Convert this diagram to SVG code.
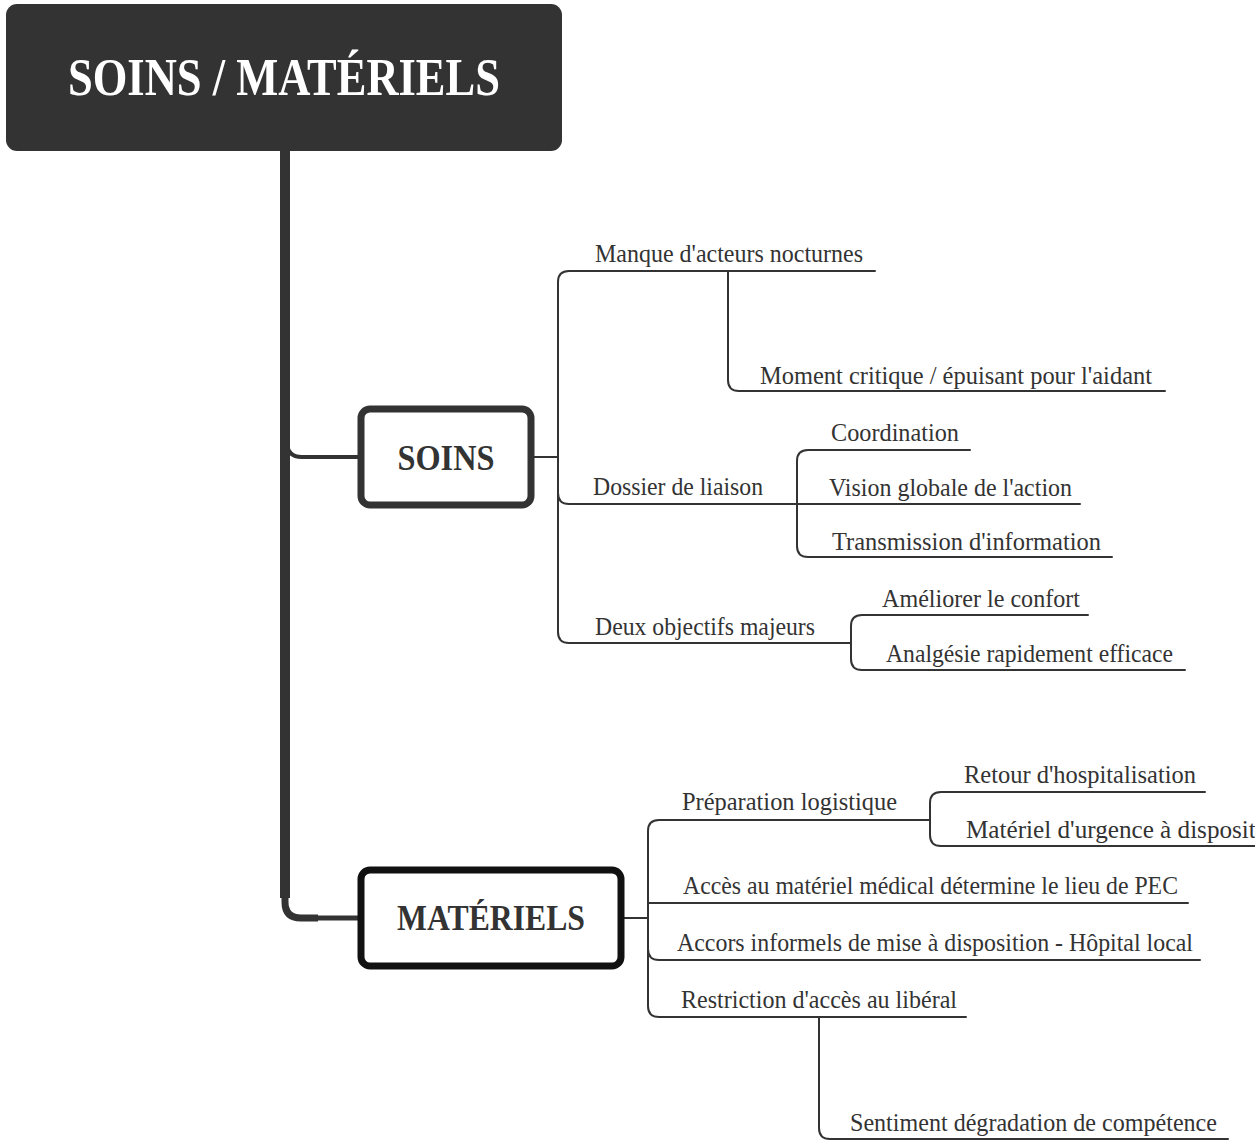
<svg xmlns="http://www.w3.org/2000/svg" width="1255" height="1144" viewBox="0 0 1255 1144">
<style>
.t{font-family:"Liberation Serif","Times New Roman",serif;fill:#333;font-size:25px}
.c{fill:none;stroke:#333;stroke-width:2;stroke-linecap:round;stroke-linejoin:round}
.b{font-family:"Liberation Serif","Times New Roman",serif;font-weight:bold;fill:#333;text-anchor:middle}
</style>
<rect width="1255" height="1144" fill="#fff"/>
<g id="connectors">
<path d="M285,151 V898" fill="none" stroke="#333" stroke-width="10"/>
<path d="M285,895 V902 Q285,918 301,918 H318" fill="none" stroke="#333" stroke-width="7"/>
<path d="M316,918 H362" fill="none" stroke="#333" stroke-width="5"/>
<path d="M287,442 Q287,457 302,457 H362" fill="none" stroke="#333" stroke-width="4"/>
<path class="c" d="M532,457 H558"/>
<path class="c" d="M558,457 V282 Q558,271 569,271 H875"/>
<path class="c" d="M728,271 V380 Q728,391 739,391 H1165"/>
<path class="c" d="M558,457 V493 Q558,504 569,504 H797"/>
<path class="c" d="M797,504 V461 Q797,450 808,450 H970"/>
<path class="c" d="M797,504 H1080"/>
<path class="c" d="M797,504 V546 Q797,557 808,557 H1112"/>
<path class="c" d="M558,457 V632 Q558,643 569,643 H851"/>
<path class="c" d="M851,643 V626 Q851,615 862,615 H1088"/>
<path class="c" d="M851,643 V659 Q851,670 862,670 H1185"/>
<path class="c" d="M622,918 H648"/>
<path class="c" d="M648,918 V831 Q648,820 659,820 H930"/>
<path class="c" d="M930,820 V803 Q930,792 941,792 H1205"/>
<path class="c" d="M930,820 V835 Q930,846 941,846 H1256"/>
<path class="c" d="M648,918 V903 H1188"/>
<path class="c" d="M648,918 V949 Q648,960 659,960 H1200"/>
<path class="c" d="M648,918 V1006 Q648,1017 659,1017 H966"/>
<path class="c" d="M819,1017 V1128 Q819,1139 830,1139 H1228"/>
</g>
<g id="root">
<rect x="6" y="4" width="556" height="147" rx="11" fill="#333"/>
<text x="284" y="95" class="b" style="fill:#fff" font-size="52" textLength="432" lengthAdjust="spacingAndGlyphs">SOINS / MATÉRIELS</text>
</g>
<g id="soins">
<rect x="361" y="409" width="170" height="96" rx="9" fill="#fff" stroke="#333" stroke-width="7"/>
<text x="446" y="470" class="b" font-size="36" textLength="97" lengthAdjust="spacingAndGlyphs">SOINS</text>
</g>
<g id="materiels">
<rect x="361" y="870" width="260" height="96" rx="9" fill="#fff" stroke="#111" stroke-width="7"/>
<text x="491" y="930" class="b" font-size="36" textLength="188" lengthAdjust="spacingAndGlyphs">MATÉRIELS</text>
</g>
<g id="n-manque"><text class="t" x="595" y="262" textLength="268" lengthAdjust="spacingAndGlyphs">Manque d'acteurs nocturnes</text></g>
<g id="n-moment"><text class="t" x="760" y="384" textLength="392" lengthAdjust="spacingAndGlyphs">Moment critique / épuisant pour l'aidant</text></g>
<g id="n-dossier"><text class="t" x="593" y="495" textLength="170" lengthAdjust="spacingAndGlyphs">Dossier de liaison</text></g>
<g id="n-coord"><text class="t" x="831" y="441" textLength="128" lengthAdjust="spacingAndGlyphs">Coordination</text></g>
<g id="n-vision"><text class="t" x="829" y="496" textLength="243" lengthAdjust="spacingAndGlyphs">Vision globale de l'action</text></g>
<g id="n-trans"><text class="t" x="832" y="550" textLength="269" lengthAdjust="spacingAndGlyphs">Transmission d'information</text></g>
<g id="n-deux"><text class="t" x="595" y="635" textLength="220" lengthAdjust="spacingAndGlyphs">Deux objectifs majeurs</text></g>
<g id="n-amel"><text class="t" x="882" y="607" textLength="198" lengthAdjust="spacingAndGlyphs">Améliorer le confort</text></g>
<g id="n-analg"><text class="t" x="886" y="662" textLength="287" lengthAdjust="spacingAndGlyphs">Analgésie rapidement efficace</text></g>
<g id="n-prep"><text class="t" x="682" y="810" textLength="215" lengthAdjust="spacingAndGlyphs">Préparation logistique</text></g>
<g id="n-retour"><text class="t" x="964" y="783" textLength="232" lengthAdjust="spacingAndGlyphs">Retour d'hospitalisation</text></g>
<g id="n-urgence"><text class="t" x="966" y="838" textLength="322" lengthAdjust="spacingAndGlyphs">Matériel d'urgence à disposition</text></g>
<g id="n-acces"><text class="t" x="683" y="894" textLength="495" lengthAdjust="spacingAndGlyphs">Accès au matériel médical détermine le lieu de PEC</text></g>
<g id="n-accors"><text class="t" x="677" y="951" textLength="516" lengthAdjust="spacingAndGlyphs">Accors informels de mise à disposition - Hôpital local</text></g>
<g id="n-restr"><text class="t" x="681" y="1008" textLength="276" lengthAdjust="spacingAndGlyphs">Restriction d'accès au libéral</text></g>
<g id="n-sent"><text class="t" x="850" y="1131" textLength="367" lengthAdjust="spacingAndGlyphs">Sentiment dégradation de compétence</text></g>
</svg>
